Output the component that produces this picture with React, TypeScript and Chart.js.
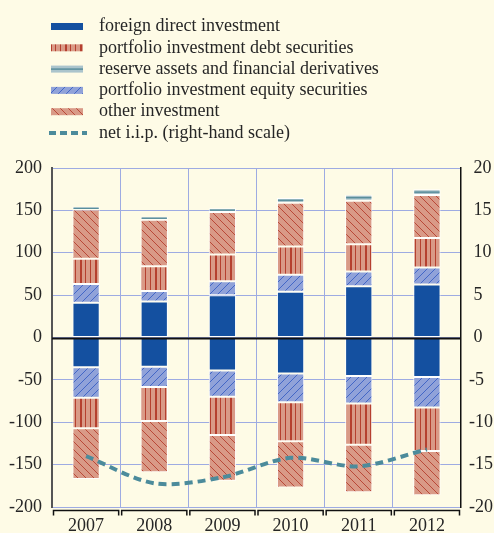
import React, { useEffect, useRef } from 'react';
import { Chart, registerables } from 'chart.js';
Chart.register(...registerables);

const years = ['2007', '2008', '2009', '2010', '2011', '2012'];
const fdiAssets = [41, 42.5, 50, 54, 60.5, 62.5];
const equityAssets = [22, 12.5, 16.5, 20, 17.5, 20];
const debtAssets = [30, 29, 31.5, 33.5, 32, 35];
const otherAssets = [58, 55, 50, 51.5, 51.5, 50.5];
const reserveAssets = [3, 3.5, 4.5, 5.5, 7, 7];
const fdiLiab = [-35, -34.5, -39, -42.5, -45.5, -46.5];
const equityLiab = [-36, -24, -31, -34, -32.5, -36];
const debtLiab = [-36, -40, -45, -46, -48.5, -51.5];
const otherLiab = [-60, -60.5, -54, -54.5, -56, -52];
const netIip = [-14.0, -17.2, -16.5, -14.2, -15.2, -13.2];
const leftTicks = [-200, -150, -100, -50, 0, 50, 100, 150, 200];
const rightTicks = [-20, -15, -10, -5, 0, 5, 10, 15, 20];
const legendLabels = [
  'foreign direct investment',
  'portfolio investment debt securities',
  'reserve assets and financial derivatives',
  'portfolio investment equity securities',
  'other investment',
  'net i.i.p. (right-hand scale)',
];

const BG = '#fefbe6';
const FDI = '#1450a0';
const SALMON = '#d99a87';
const RED = '#b5402f';
const EQ_BG = '#90a2d9';
const EQ_LINE = '#3a60c4';
const RES = '#abc4cc';
const RES_LINE = '#5a8e9c';
const GRID = '#9eabe2';
const LINE = '#4c8b9b';
const FONT = '"Liberation Serif", "Times New Roman", serif';
const TEXT = '#262626';

function makePattern(bg: string, w: number, h: number, draw: (c: CanvasRenderingContext2D) => void) {
  const c = document.createElement('canvas');
  c.width = w;
  c.height = h;
  const x = c.getContext('2d')!;
  x.fillStyle = bg;
  x.fillRect(0, 0, w, h);
  draw(x);
  return x.createPattern(c, 'repeat')!;
}

export default function App() {
  const ref = useRef<HTMLCanvasElement>(null);
  useEffect(() => {
    document.body.style.margin = '0';
    document.body.style.background = BG;
    const S = 8;
    const otherPat = makePattern(SALMON, S, S, (x) => {
      x.strokeStyle = RED;
      x.lineWidth = 0.9;
      x.beginPath();
      x.moveTo(-1, -1); x.lineTo(S + 1, S + 1);
      x.moveTo(-1, S - 1); x.lineTo(1, S + 1);
      x.moveTo(S - 1, -1); x.lineTo(S + 1, 1);
      x.stroke();
    });
    const eqPat = makePattern(EQ_BG, S, S, (x) => {
      x.strokeStyle = EQ_LINE;
      x.lineWidth = 0.9;
      x.beginPath();
      x.moveTo(-1, S + 1); x.lineTo(S + 1, -1);
      x.moveTo(-1, 1); x.lineTo(1, -1);
      x.moveTo(S - 1, S + 1); x.lineTo(S + 1, S - 1);
      x.stroke();
    });
    const debtPat = makePattern(SALMON, 15, 4, (x) => {
      x.fillStyle = RED;
      x.fillRect(0, 0, 1, 4);
      x.fillRect(5, 0, 2, 4);
      x.fillRect(10, 0, 1, 4);
    });

    const common = { stack: 's', borderColor: 'rgba(255,255,255,0.92)', borderWidth: 1, borderSkipped: false, order: 1 };
    const bars = [
      { data: fdiAssets, backgroundColor: FDI },
      { data: equityAssets, backgroundColor: eqPat },
      { data: debtAssets, backgroundColor: debtPat },
      { data: otherAssets, backgroundColor: otherPat },
      { data: reserveAssets, backgroundColor: RES },
      { data: fdiLiab, backgroundColor: FDI },
      { data: equityLiab, backgroundColor: eqPat },
      { data: debtLiab, backgroundColor: debtPat },
      { data: otherLiab, backgroundColor: otherPat },
    ].map((d, i) => ({ ...common, type: 'bar' as const, label: 'b' + i, ...d }));

    const overlay = {
      id: 'overlay',
      beforeDraw(chart: any) {
        const c = chart.ctx;
        c.save();
        c.fillStyle = BG;
        c.fillRect(0, 0, chart.width, chart.height);
        c.restore();
      },
      afterDatasetsDraw(chart: any) {
        const c = chart.ctx;
        const { left, right, bottom } = chart.chartArea;
        const ys = chart.scales.y;
        const xs = chart.scales.x;
        c.save();
        const meta = chart.getDatasetMeta(4);
        c.strokeStyle = RES_LINE;
        c.lineWidth = 1.5;
        meta.data.forEach((el: any) => {
          const mid = (el.y + el.base) / 2;
          c.beginPath();
          c.moveTo(el.x - el.width / 2 + 1, mid);
          c.lineTo(el.x + el.width / 2 - 1, mid);
          c.stroke();
        });
        const y0 = Math.round(ys.getPixelForValue(0)) + 0.5;
        c.strokeStyle = '#111';
        c.lineWidth = 2;
        c.beginPath();
        c.moveTo(left, y0);
        c.lineTo(right, y0);
        c.stroke();
        const half = (xs.getPixelForValue(1) - xs.getPixelForValue(0)) / 2;
        c.lineWidth = 1.5;
        c.strokeStyle = '#111';
        const by = bottom + 3.5;
        years.forEach((_, i) => {
          const cx = xs.getPixelForValue(i);
          const l = cx - half + 1.5;
          const r = cx + half - 1.5;
          c.beginPath();
          c.moveTo(l, by + 5);
          c.lineTo(l, by);
          c.lineTo(r, by);
          c.lineTo(r, by + 5);
          c.stroke();
        });
        c.restore();
      },
      afterDraw(chart: any) {
        const c = chart.ctx;
        c.save();
        const fills = [FDI, debtPat, RES, eqPat, otherPat];
        legendLabels.forEach((lab, i) => {
          const y = 26.5 + i * 21.3;
          if (i < 5) {
            c.fillStyle = fills[i];
            c.fillRect(51, y - 3.5, 32, 7);
            if (i === 2) {
              c.strokeStyle = RES_LINE;
              c.lineWidth = 1.5;
              c.beginPath();
              c.moveTo(51, y);
              c.lineTo(83, y);
              c.stroke();
            }
          } else {
            c.strokeStyle = LINE;
            c.lineWidth = 4;
            c.setLineDash([7, 4]);
            c.beginPath();
            c.moveTo(49, y);
            c.lineTo(87, y);
            c.stroke();
            c.setLineDash([]);
          }
          c.fillStyle = TEXT;
          c.font = '18px ' + FONT;
          c.textBaseline = 'middle';
          c.textAlign = 'left';
          c.fillText(lab, 99, y);
        });
        c.restore();
      },
    };

    const chart = new Chart(ref.current!, {
      data: {
        labels: years,
        datasets: [
          ...bars,
          {
            type: 'line' as const,
            label: 'net',
            data: netIip,
            yAxisID: 'y2',
            borderColor: LINE,
            borderWidth: 4,
            borderDash: [8, 5],
            pointRadius: 0,
            tension: 0.3,
            fill: false,
            order: 0,
          },
        ] as any,
      },
      options: {
        responsive: false,
        animation: false,
        layout: { padding: { top: 168, left: 0, right: 0, bottom: 0 } },
        datasets: { bar: { barPercentage: 0.4, categoryPercentage: 1 } },
        plugins: { legend: { display: false }, tooltip: { enabled: false } },
        scales: {
          x: {
            stacked: true,
            grid: { color: GRID, offset: true, drawTicks: false },
            border: { display: false },
            ticks: { color: TEXT, font: { family: FONT, size: 18 }, padding: 8 },
            afterFit: (s: any) => { s.height = 26; },
          },
          y: {
            stacked: true,
            min: -200,
            max: 200,
            afterBuildTicks: (s: any) => { s.ticks = leftTicks.map((v) => ({ value: v })); },
            grid: { color: GRID, drawTicks: false },
            border: { color: '#555', width: 2 },
            ticks: { color: TEXT, font: { family: FONT, size: 18 }, padding: 10 },
            afterFit: (s: any) => { s.width = 52; },
          },
          y2: {
            position: 'right',
            min: -20,
            max: 20,
            afterBuildTicks: (s: any) => { s.ticks = rightTicks.map((v) => ({ value: v })); },
            grid: { display: false, drawTicks: false },
            border: { color: '#111', width: 1.5 },
            ticks: {
              color: TEXT,
              font: { family: FONT, size: 18 },
              padding: 8,
              callback: (v: any) => (Number(v) < 0 ? String(v) : ' ' + v),
            },
            afterFit: (s: any) => { s.width = 33; },
          },
        },
      } as any,
      plugins: [overlay],
    });
    return () => chart.destroy();
  }, []);
  return (
    <div style={{ position: 'absolute', left: 0, top: 0, width: 494, height: 533, background: BG }}>
      <canvas ref={ref} width={494} height={533} style={{ display: 'block' }} />
    </div>
  );
}
